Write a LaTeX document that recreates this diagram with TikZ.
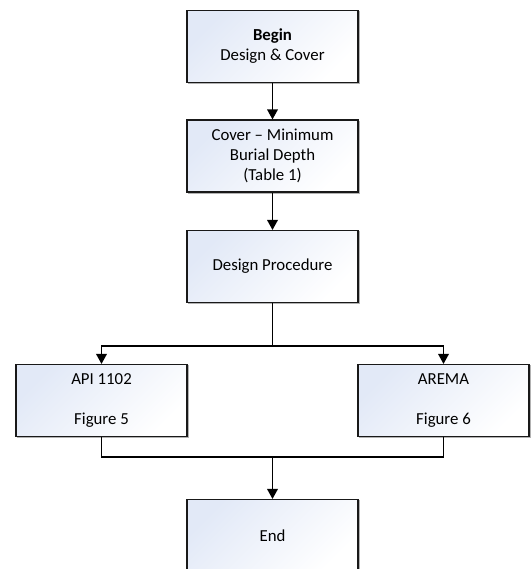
\documentclass[tikz,border=0pt]{standalone}
\usepackage{fontspec}
\setmainfont{Carlito}
\usetikzlibrary{shadows,arrows.meta}
\definecolor{boxblue}{RGB}{226,233,247}
\definecolor{boxline}{RGB}{25,25,25}
\begin{document}
\begin{tikzpicture}[x=1pt,y=-1pt,
  flowbox/.style={draw=boxline, line width=1.1pt, minimum width=171pt, minimum height=72pt,
    inner sep=0pt, align=center, top color=boxblue, bottom color=white, shading angle=45,
    font=\fontsize{16.8}{20}\selectfont,
    copy shadow={shadow xshift=1.3pt, shadow yshift=-1.3pt, draw=gray!60, fill=gray!60, line width=1pt}},
  conn/.style={line width=1.8pt, draw=black},
  arr/.style={conn, -{Triangle[length=10pt,width=10.5pt]}}]
\useasboundingbox (0,0) rectangle (531,569);
\node[flowbox] (begin) at (272.5,46.5) {\textbf{Begin}\\Design \& Cover};
\node[flowbox] (cover) at (272.5,156) {Cover – Minimum\\Burial Depth\\(Table 1)};
\node[flowbox] (design) at (272.5,266.5) {Design Procedure};
\node[flowbox] (api) at (101.5,400.5) {API 1102\\[20pt]Figure 5};
\node[flowbox] (arema) at (443.5,400.5) {AREMA\\[20pt]Figure 6};
\node[flowbox] (end) at (272.5,535.5) {End};
\coordinate (split) at (272.5,346);
\coordinate (join) at (272.5,457);
\draw[arr] (begin) -- (cover);
\draw[arr] (cover) -- (design);
\draw[conn] (design.south) -- (split);
\draw[arr] (split) -| (api.north);
\draw[arr] (split) -| (arema.north);
\draw[conn] (api.south) |- (join);
\draw[conn] (arema.south) |- (join);
\draw[arr] (join) -- (end.north);
\end{tikzpicture}
\end{document}
